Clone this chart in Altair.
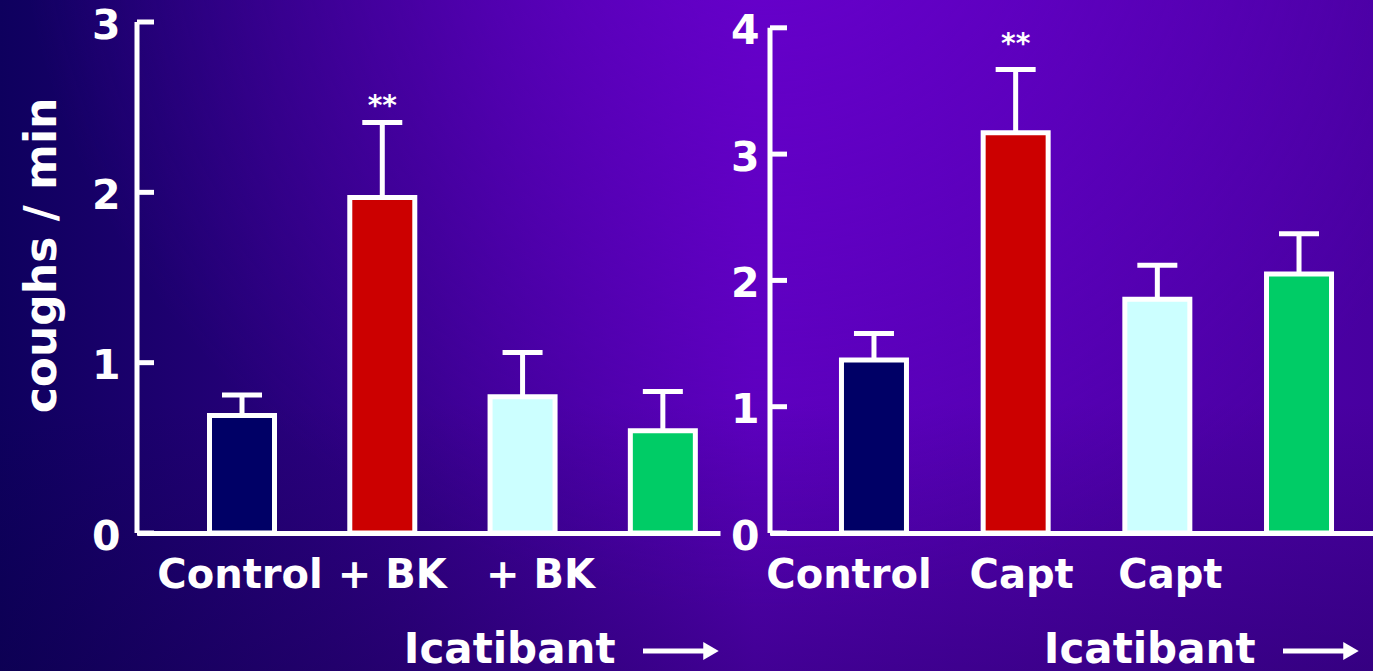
import json
import altair as alt
import pandas as pd

# Bradykinin challenge
bk_groups = ["Control", "BK", "Icatibant + BK", "Icatibant"]
bk_labels = ["Control", "+ BK", "+ BK", ""]
bk_mean = [0.69, 1.97, 0.80, 0.60]
bk_sem = [0.12, 0.44, 0.26, 0.23]
bk_sig = ["", "**", "", ""]
bk_ticks = [0, 1, 2, 3]

# Capsaicin challenge
capt_groups = ["Control", "Capt", "Icatibant + Capt", "Icatibant"]
capt_labels = ["Control", "Capt", "Capt", ""]
capt_mean = [1.37, 3.17, 1.85, 2.05]
capt_sem = [0.21, 0.50, 0.27, 0.32]
capt_sig = ["", "**", "", ""]
capt_ticks = [0, 1, 2, 3, 4]

bar_colors = ["#000066", "#cc0000", "#ccffff", "#00cc66"]

FONT = "DejaVu Sans"
WHITE = "#ffffff"
PLOT_H = 511


def panel(groups, labels, mean, sem, sig, ticks, ymax, width, pad_outer, align,
          star_dy, y_title, label_dx, note_right, ylabel_pad, background=False):
    df = pd.DataFrame({
        "group": groups,
        "mean": mean,
        "top": [m + s for m, s in zip(mean, sem)],
        "sig": sig,
        "color": bar_colors,
    })
    tick_df = pd.DataFrame({"v": ticks})
    label_map = json.dumps(dict(zip(groups, labels)))
    label_shift = {
        "condition": [
            {"test": f"datum.value === {json.dumps(g)}", "value": d}
            for g, d in zip(groups, label_dx) if d
        ],
        "value": 0,
    }

    x = alt.X(
        "group:N", sort=groups,
        scale=alt.Scale(paddingInner=0.5, paddingOuter=pad_outer, align=align),
        axis=alt.Axis(
            title="Icatibant", labelExpr=f"{label_map}[datum.value]",
            labelAngle=0, ticks=False, tickSize=0, labelPadding=22,
            labelFontSize=40, titleFontSize=42, titleAnchor="end",
            titleAlign="right", titleX=note_right, titleY=116,
            titleBaseline="middle", domainWidth=5, domainColor=WHITE,
            zindex=1, labelOffset=label_shift,
        ),
    )
    yscale = alt.Scale(domain=[0, ymax], nice=False, zero=True)
    yaxis = alt.Axis(
        title=y_title, values=ticks, format="d", domain=False, ticks=False,
        grid=False, labelPadding=ylabel_pad, labelFontSize=41, labelOffset=4,
        titleFontSize=44, titleAngle=-90, titleX=-95, titleY=233,
        titleAlign="center", titleBaseline="middle", zindex=1,
    )

    base = alt.Chart(df)
    bars = base.mark_bar(size=65, stroke=WHITE, strokeWidth=5).encode(
        x=x,
        y=alt.Y("mean:Q", scale=yscale, axis=yaxis),
        fill=alt.Fill("color:N", scale=None),
    )
    stems = base.mark_rule(color=WHITE, strokeWidth=5).encode(
        x=x, y=alt.Y("mean:Q", scale=yscale, axis=yaxis), y2="top:Q"
    )
    caps = base.mark_tick(color=WHITE, thickness=5, size=40, opacity=1).encode(
        x=x, y=alt.Y("top:Q", scale=yscale, axis=yaxis)
    )
    stars = base.mark_text(
        color=WHITE, font=FONT, fontSize=28, fontWeight="bold", dy=star_dy,
        baseline="middle",
    ).encode(x=x, y=alt.Y("top:Q", scale=yscale, axis=yaxis), text="sig:N")

    # y axis line and inward-pointing ticks
    axis_line = alt.Chart(tick_df).mark_rule(color=WHITE, strokeWidth=5).encode(
        x=alt.value(0),
        y=alt.Y("min(v):Q", scale=yscale, axis=yaxis),
        y2="max(v):Q",
    )
    tick_marks = alt.Chart(tick_df).mark_rule(color=WHITE, strokeWidth=5).encode(
        x=alt.value(0), x2=alt.value(17),
        y=alt.Y("v:Q", scale=yscale, axis=yaxis),
    )

    # arrow after the "Icatibant" note
    one = pd.DataFrame({"k": [0]})
    arrow_y = PLOT_H + 118
    arrow_shaft = alt.Chart(one).mark_rule(color=WHITE, strokeWidth=5).encode(
        x=alt.value(note_right + 28), x2=alt.value(note_right + 90),
        y=alt.value(arrow_y),
    )
    arrow_head = alt.Chart(one).mark_point(
        shape="triangle-right", filled=True, color=WHITE, size=320, opacity=1,
    ).encode(x=alt.value(note_right + 96), y=alt.value(arrow_y))

    layers = [bars, stems, caps, stars, axis_line, tick_marks,
              arrow_shaft, arrow_head]
    if background:
        base_fill = {
            "gradient": "linear", "x1": 0, "y1": 0, "x2": 1, "y2": 0,
            "stops": [
                {"offset": 0.0, "color": "#0e005e"},
                {"offset": 0.30, "color": "#330088"},
                {"offset": 0.55, "color": "#5a00bb"},
                {"offset": 1.0, "color": "#4800a0"},
            ],
        }
        glow_fill = {
            "gradient": "radial", "x1": 0.56, "y1": 0.15, "r1": 0,
            "x2": 0.56, "y2": 0.15, "r2": 0.55,
            "stops": [
                {"offset": 0.0, "color": "rgba(108,0,210,0.75)"},
                {"offset": 1.0, "color": "rgba(108,0,210,0)"},
            ],
        }
        shade_fill = {
            "gradient": "linear", "x1": 0, "y1": 0, "x2": 0, "y2": 1,
            "stops": [
                {"offset": 0.0, "color": "rgba(10,0,60,0)"},
                {"offset": 0.6, "color": "rgba(10,0,60,0)"},
                {"offset": 1.0, "color": "rgba(10,0,60,0.3)"},
            ],
        }
        rects = [
            alt.Chart(one).mark_rect(fill=f, strokeWidth=0).encode(
                x=alt.value(-137), x2=alt.value(1236),
                y=alt.value(-22), y2=alt.value(649),
            )
            for f in (base_fill, glow_fill, shade_fill)
        ]
        layers = rects + layers

    return alt.layer(*layers).properties(width=width, height=PLOT_H)


left = panel(bk_groups, bk_labels, bk_mean, bk_sem, bk_sig, bk_ticks,
             ymax=3.0, width=583, pad_outer=0.328, align=0.76, star_dy=-15,
             y_title="coughs / min", label_dx=[-2, 10, 18, 0], note_right=478,
             ylabel_pad=17, background=True)
right = panel(capt_groups, capt_labels, capt_mean, capt_sem, capt_sig, capt_ticks,
              ymax=PLOT_H / 126.3, width=603, pad_outer=0.378, align=0.64,
              star_dy=-24, y_title=None, label_dx=[-25, 6, 13, 0],
              note_right=485, ylabel_pad=11)

chart = (
    alt.hconcat(left, right, spacing=50, bounds="flush")
    .properties(padding=0, background="#3a0090")
    .configure_view(stroke=None)
    .configure_axis(
        labelColor=WHITE, titleColor=WHITE, labelFont=FONT, titleFont=FONT,
        labelFontWeight="bold", titleFontWeight="bold", grid=False,
    )
)

chart.save("out.html", embed_options={"renderer": "svg", "actions": False})
